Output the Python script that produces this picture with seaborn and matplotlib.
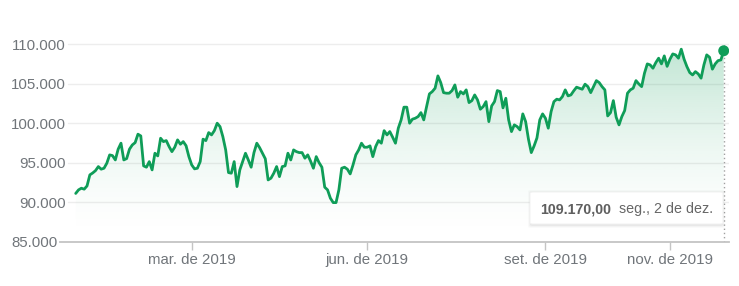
import numpy as np
import pandas as pd
import matplotlib
matplotlib.use("Agg")
import matplotlib.pyplot as plt
import seaborn as sns
from matplotlib.patches import FancyBboxPatch
from matplotlib.colors import to_rgb
from matplotlib.transforms import ScaledTranslation

# ---- data (daily closes, one per trading session, Jan 2 -> Dec 2 2019) ----
fechamento = [
    91110, 91560, 91770, 91650, 92060, 93460, 93700, 94000, 94510, 94180,
    94300, 94940, 95990, 95900, 95350, 96710, 97470, 95350, 95520, 96710,
    97250, 97540, 98610, 98390, 94600, 94430, 95140, 94090, 96200, 95860,
    98100, 97670, 97800, 97040, 96400, 96960, 97890, 97340, 97670, 97150,
    95770, 94720, 94220, 94300, 95140, 97980, 97800, 98810, 98520, 99060,
    100000, 99570, 98300, 96620, 93750, 93670, 95140, 91980, 94090, 95140,
    96200, 95350, 94430, 96280, 97470, 96900, 96200, 95500, 92820, 93040,
    93670, 94510, 93240, 94510, 94600, 96200, 95350, 96620, 96400, 96280,
    96280, 95570, 95990, 95200, 94300, 95770, 95010, 94430, 91900, 91560,
    90510, 89950, 89950, 91560, 94300, 94430, 94180, 93580, 94720, 96000,
    96620, 97470, 96960, 96960, 97130, 95770, 97040, 97800, 97470, 99060,
    98520, 98940, 98230, 97470, 99370, 100420, 102030, 102030, 100000, 100510,
    100630, 100840, 101340, 100420, 102100, 103710, 104000, 104430, 105990, 105140,
    103870, 103800, 103800, 104130, 104850, 103290, 104000, 103710, 104220, 102610,
    102860, 103580, 102950, 101770, 102100, 102730, 100200, 102190, 102730, 104130,
    104000, 101940, 103160, 100420, 98940, 99790, 99570, 99150, 101180, 100200,
    97980, 96280, 97130, 98140, 100420, 101180, 100630, 99370, 101470, 102730,
    103040, 102950, 103370, 104220, 103460, 103580, 104100, 104560, 104430, 104300,
    104940, 104630, 103870, 104630, 105390, 105140, 104630, 104220, 100920, 101340,
    102860, 100760, 99790, 100840, 101600, 103800, 104220, 104430, 105390, 104970,
    104630, 106330, 107510, 107380, 106960, 107670, 108230, 107510, 108520, 107200,
    108100, 108770, 108650, 108230, 109370, 108100, 107160, 106410, 106110, 106530,
    106240, 105700, 107380, 108650, 108350, 106840, 107510, 107920, 108010, 109170,
]
pregao = list(range(len(fechamento)))

# first session of the labelled months
mes_pregao = [41, 103, 166, 210]
mes_rotulos = ["mar. de 2019", "jun. de 2019", "set. de 2019", "nov. de 2019"]

y_valores = [85000, 90000, 95000, 100000, 105000, 110000]
y_rotulos = ["85.000", "90.000", "95.000", "100.000", "105.000", "110.000"]

dica_valor = "109.170,00"
dica_data = "seg., 2 de dez."

# ---- style ----
VERDE = "#0f9d58"
CINZA_TXT = "#70757a"

sns.set_theme(style="white")
plt.rcParams["font.family"] = ["Liberation Sans", "DejaVu Sans"]

W, H = 739, 286
fig = plt.figure(figsize=(W / 100, H / 100), dpi=100)
ax_l, ax_r, ax_top, ax_bot = 60, 729, 36, 241.7
ax = fig.add_axes([ax_l / W, 1 - ax_bot / H, (ax_r - ax_l) / W, (ax_bot - ax_top) / H])

df = pd.DataFrame({"pregao": pregao, "fechamento": fechamento})

XL = (-5.55, 230.87)
YL = (85000, 111040)

# gradient area under the curve
poly = ax.fill_between(df["pregao"], df["fechamento"], YL[0], color="none", lw=0)
clip = poly.get_paths()[0]
n = 256
g = np.linspace(0, 1, n).reshape(-1, 1)
rgba = np.zeros((n, 1, 4))
rgba[..., :3] = to_rgb(VERDE)
rgba[..., 3] = 0.26 * g ** 1.65
im = ax.imshow(rgba, extent=[XL[0], XL[1], YL[0], max(fechamento)], origin="lower",
               aspect="auto", zorder=2, interpolation="bilinear")
im.set_clip_path(clip, transform=ax.transData)

# gridlines (start slightly right of the axis start)
for v in y_valores[1:]:
    ax.axhline(v, xmin=8 / (ax_r - ax_l), xmax=1, color="#ededed", lw=1.0, zorder=1)

sns.lineplot(data=df, x="pregao", y="fechamento", ax=ax, color=VERDE, lw=2.0,
             zorder=4, legend=False)

# last point marker + dotted vertical guide
ax.axvline(pregao[-1], ymax=0.97, color="#a0a0a0", ls=(0, (1, 2)), lw=1.0, zorder=3)
sns.scatterplot(x=[pregao[-1]], y=[fechamento[-1]], ax=ax, color=VERDE, s=62,
                edgecolor="none", zorder=5, legend=False)

ax.set_xlim(*XL)
ax.set_ylim(*YL)
ax.set_xlabel("")
ax.set_ylabel("")

ax.set_yticks(y_valores, y_rotulos)
ax.set_xticks(mes_pregao, mes_rotulos)
ax.tick_params(axis="y", length=0, pad=-6 * 0.72, labelsize=10.8, labelcolor=CINZA_TXT)
ax.tick_params(axis="x", length=8 * 0.72, width=1, color="#c4c4c4", pad=3 * 0.72,
               labelsize=10.8, labelcolor=CINZA_TXT, direction="out")
ax.tick_params(axis="x", bottom=True)
for lab in ax.get_yticklabels():
    if lab.get_text() == "85.000":
        lab.set_transform(lab.get_transform() + ScaledTranslation(-8 / 100, 0, fig.dpi_scale_trans))

for s in ["left", "right", "top"]:
    ax.spines[s].set_visible(False)
ax.spines["bottom"].set_color("#c4c4c4")
ax.spines["bottom"].set_linewidth(1.3)
ax.spines["bottom"].set_zorder(6)
ax.set_facecolor("white")

# tooltip box with a soft shadow
bx0, bx1, by0, by1 = 530, 723, 192, 224
for k, a in [(3, 0.018), (2, 0.028), (1, 0.04)]:
    sh = FancyBboxPatch(((bx0 - k + 1) / W, 1 - (by1 + k + 1) / H), (bx1 - bx0 + 2 * k - 2) / W,
                        (by1 - by0 + 2 * k) / H,
                        boxstyle="round,pad=0,rounding_size=0.004", transform=fig.transFigure,
                        facecolor="black", edgecolor="none", alpha=a, zorder=8)
    fig.add_artist(sh)
box = FancyBboxPatch((bx0 / W, 1 - by1 / H), (bx1 - bx0) / W, (by1 - by0) / H,
                     boxstyle="round,pad=0,rounding_size=0.004", transform=fig.transFigure,
                     facecolor="white", edgecolor="#f0f0f0", lw=0.6, zorder=9)
fig.add_artist(box)
fig.text(540 / W, 1 - 209 / H, dica_valor, ha="left", va="center", fontsize=10.2,
         fontweight="bold", color="#5f5f5f", zorder=10)
fig.text(619 / W, 1 - 209 / H, dica_data, ha="left", va="center", fontsize=10.3,
         color="#666666", zorder=10)

fig.savefig("out.png", dpi=100, facecolor="white")
